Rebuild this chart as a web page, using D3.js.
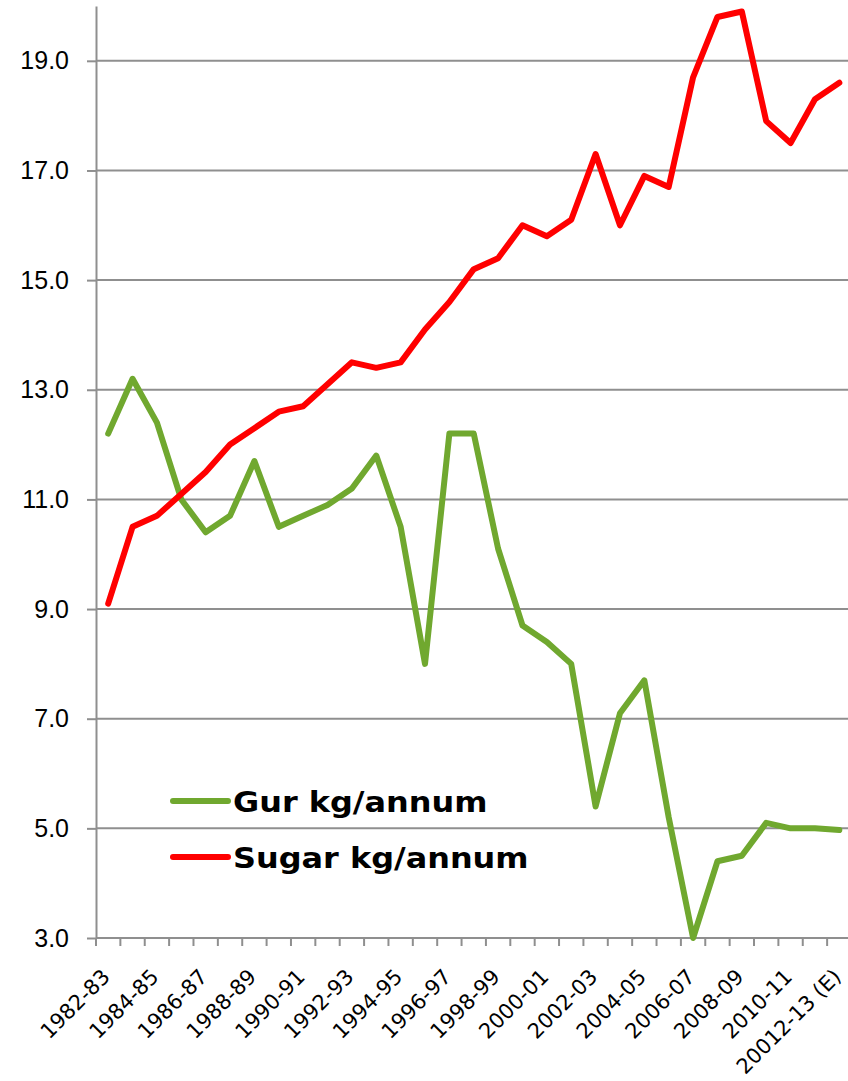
<!doctype html>
<meta charset=utf8>
<title>Gur and sugar consumption</title>
<style>
  html, body {
    margin: 0;
    background: white;
  }

  svg {
    display: block;
    font-family: "Century Gothic", "DejaVu Sans", sans-serif;
  }

  .grid line {
    stroke: #8f8f8f;
    stroke-width: 2;
  }

  .axis path, .axis line {
    stroke: #8f8f8f;
    stroke-width: 2;
  }

  .axis text {
    fill: #000;
  }

  .series {
    fill: none;
    stroke-width: 6;
    stroke-linejoin: round;
    stroke-linecap: round;
  }
</style>
<svg width=848 height=1081></svg>
<script src=https://cdn.jsdelivr.net/npm/d3@7></script>
<script>
  var years = [
    '1982-83', '1983-84', '1984-85', '1985-86', '1986-87', '1987-88',
    '1988-89', '1989-90', '1990-91', '1991-92', '1992-93', '1993-94',
    '1994-95', '1995-96', '1996-97', '1997-98', '1998-99', '1999-00',
    '2000-01', '2001-02', '2002-03', '2003-04', '2004-05', '2005-06',
    '2006-07', '2007-08', '2008-09', '2009-10', '2010-11', '2011-12',
    '20012-13 (E)'
  ];

  var gur = [
    12.2, 13.2, 12.4, 11.0, 10.4, 10.7, 11.7, 10.5, 10.7, 10.9,
    11.2, 11.8, 10.5, 8.0, 12.2, 12.2, 10.1, 8.7, 8.4, 8.0,
    5.4, 7.1, 7.7, 5.2, 3.0, 4.4, 4.5, 5.1, 5.0, 5.0, 4.97
  ];

  var sugar = [
    9.1, 10.5, 10.7, 11.1, 11.5, 12.0, 12.3, 12.6, 12.7, 13.1,
    13.5, 13.4, 13.5, 14.1, 14.6, 15.2, 15.4, 16.0, 15.8, 16.1,
    17.3, 16.0, 16.9, 16.7, 18.7, 19.8, 19.9, 17.9, 17.5, 18.3, 18.6
  ];

  var yTicks = [3, 5, 7, 9, 11, 13, 15, 17, 19];

  var seriesNames = ['Gur kg/annum', 'Sugar kg/annum'];
  var seriesColors = ['#70a82f', '#ff0000'];

  var svg = d3.select('svg');
  var plotLeft = 96, plotRight = 851.5, plotTop = 6, plotBottom = 938;

  var x = d3.scaleBand().domain(years).range([plotLeft, plotRight]);
  var y = d3.scaleLinear().domain([3, 20]).range([plotBottom, plotTop]);

  // horizontal gridlines
  svg.append('g')
    .attr('class', 'grid')
    .selectAll('line')
    .data(yTicks)
    .enter()
    .append('line')
    .attr('x1', plotLeft)
    .attr('x2', 848)
    .attr('y1', function (d) { return y(d); })
    .attr('y2', function (d) { return y(d); });

  // y axis
  var yAxis = svg.append('g')
    .attr('class', 'axis')
    .attr('transform', 'translate(' + plotLeft + ',0)')
    .call(d3.axisLeft(y).tickValues(yTicks).tickFormat(d3.format('.1f')).tickSize(9).tickSizeOuter(0).tickPadding(18));
  yAxis.selectAll('text').attr('font-size', 25).attr('font-family', null);

  // x axis baseline and ticks at band boundaries
  var xAxis = svg.append('g').attr('class', 'axis');
  xAxis.append('line')
    .attr('x1', plotLeft).attr('x2', 848)
    .attr('y1', plotBottom).attr('y2', plotBottom);
  xAxis.selectAll('line.tick')
    .data(years)
    .enter()
    .append('line')
    .attr('class', 'tick')
    .attr('x1', function (d) { return x(d); })
    .attr('x2', function (d) { return x(d); })
    .attr('y1', plotBottom)
    .attr('y2', plotBottom + 8);

  xAxis.selectAll('text')
    .data(years.filter(function (d, i) { return i % 2 === 0; }))
    .enter()
    .append('text')
    .attr('text-anchor', 'end')
    .attr('font-size', 21)
    .attr('transform', function (d) {
      return 'translate(' + (x(d) + x.bandwidth() / 2 + 3) + ',' + (plotBottom + 40) + ') rotate(-45)';
    })
    .text(function (d) { return d; });

  // lines
  var line = d3.line()
    .x(function (d, i) { return x(years[i]) + x.bandwidth() / 2; })
    .y(function (d) { return y(d); });

  svg.selectAll('path.series')
    .data([gur, sugar])
    .enter()
    .append('path')
    .attr('class', 'series')
    .attr('stroke', function (d, i) { return seriesColors[i]; })
    .attr('d', line);

  // legend
  var legend = svg.append('g')
    .selectAll('g')
    .data(seriesNames)
    .enter()
    .append('g')
    .attr('transform', function (d, i) { return 'translate(173,' + (801 + i * 56) + ')'; });

  legend.append('line')
    .attr('x1', 0).attr('x2', 55)
    .attr('stroke', function (d, i) { return seriesColors[i]; })
    .attr('stroke-width', 6)
    .attr('stroke-linecap', 'round');

  // wider glyphs to stand in for the original's broad geometric face
  legend.append('text')
    .attr('transform', 'translate(60,11) scale(1.14,1)')
    .attr('font-size', 28)
    .attr('font-weight', 'bold')
    .text(function (d) { return d; });
</script>
